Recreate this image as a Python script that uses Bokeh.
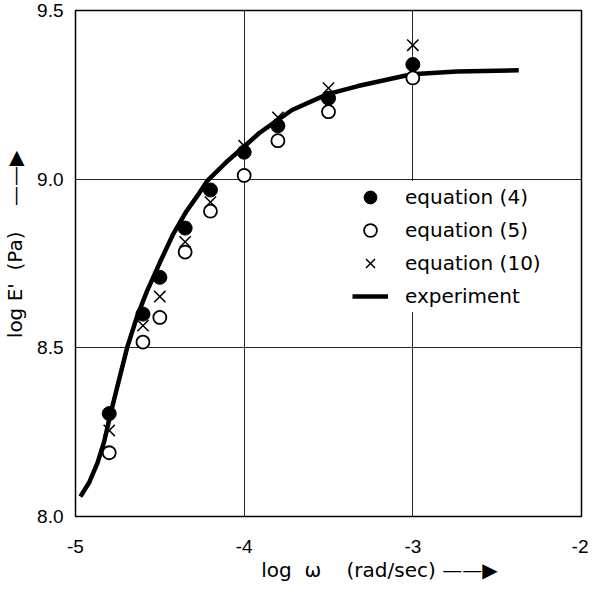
from bokeh.plotting import figure
from bokeh.models import Range1d, FixedTicker, Legend
from bokeh.embed import file_html
from bokeh.resources import INLINE

# ---- data ----
omega_pts = [-4.8, -4.6, -4.5, -4.35, -4.2, -4.0, -3.8, -3.5, -3.0]
eq4 = [8.305, 8.600, 8.709, 8.855, 8.968, 9.080, 9.158, 9.240, 9.340]
eq5 = [8.189, 8.517, 8.590, 8.784, 8.905, 9.011, 9.114, 9.200, 9.300]
eq10 = [8.255, 8.566, 8.652, 8.814, 8.932, 9.099, 9.183, 9.270, 9.397]

exp_x = [-4.971, -4.920, -4.870, -4.830, -4.791, -4.742, -4.693, -4.635, -4.576,
         -4.498, -4.420, -4.342, -4.267, -4.219, -4.107, -4.000, -3.912, -3.794,
         -3.716, -3.505, -3.325, -3.007, -2.739, -2.372]
exp_y = [8.059, 8.100, 8.158, 8.222, 8.307, 8.405, 8.502, 8.593, 8.668,
         8.755, 8.838, 8.905, 8.958, 8.995, 9.050, 9.097, 9.136, 9.178,
         9.205, 9.252, 9.276, 9.311, 9.319, 9.323]

x_ticks = [-5, -4, -3, -2]
x_tick_labels = ["-5", "-4", "-3", "-2"]
y_ticks = [8.0, 8.5, 9.0, 9.5]
y_tick_labels = ["8.0", "8.5", "9.0", "9.5"]

labels = ["equation (4)", "equation (5)", "equation (10)", "experiment"]
NB = "\u00a0"
ARROW = "\u2014\u2014\u25b6"
x_title = NB * 16 + "log" + NB * 2 + "\u03c9" + NB * 4 + "(rad/sec)" + NB + ARROW
y_title = NB * 6 + "log" + NB + "E'" + NB * 2 + "(Pa)" + NB * 4 + ARROW

FONT = "DejaVu Sans"
TICKFONT = "Liberation Sans"

p = figure(frame_width=506, frame_height=506,
           min_border_left=73, min_border_right=7,
           min_border_top=10, min_border_bottom=65,
           x_range=Range1d(-5, -2), y_range=Range1d(8.0, 9.5),
           output_backend="svg", toolbar_location=None)

p.background_fill_color = "white"
p.border_fill_color = "white"
p.outline_line_color = "black"
p.outline_line_width = 1.5

for ax in (p.xaxis[0], p.yaxis[0]):
    ax.axis_line_color = None
    ax.major_tick_line_color = None
    ax.minor_tick_line_color = None
    ax.major_label_text_font = TICKFONT
    ax.major_label_text_font_size = "19px"
    ax.major_label_text_color = "black"
    ax.axis_label_text_font = FONT
    ax.axis_label_text_font_size = "20px"
    ax.axis_label_text_font_style = "normal"
    ax.axis_label_text_color = "black"

p.xaxis.ticker = FixedTicker(ticks=x_ticks)
p.yaxis.ticker = FixedTicker(ticks=y_ticks)
p.xaxis.major_label_overrides = dict(zip(x_ticks, x_tick_labels))
p.yaxis.major_label_overrides = dict(zip(y_ticks, y_tick_labels))
p.xaxis.major_label_standoff = 17
p.yaxis.major_label_standoff = 6
p.xaxis.axis_label = x_title
p.yaxis.axis_label = y_title
p.xaxis.axis_label_standoff = 2
p.yaxis.axis_label_standoff = 7

p.grid.grid_line_color = "black"
p.grid.grid_line_width = 1
p.grid.grid_line_alpha = 0.85
p.xgrid.ticker = FixedTicker(ticks=x_ticks)
p.ygrid.ticker = FixedTicker(ticks=y_ticks)

r_exp = p.line(exp_x, exp_y, line_color="black", line_width=4.5)
r4 = p.scatter(omega_pts, eq4, marker="circle", size=14, fill_color="black",
               line_color="black")
r5 = p.scatter(omega_pts, eq5, marker="circle", size=13, fill_color="white",
               line_color="black", line_width=1.8)
r10 = p.scatter(omega_pts, eq10, marker="x", size=16, line_color="black",
                line_width=1.5)

legend = Legend(items=[(labels[0], [r4]), (labels[1], [r5]),
                       (labels[2], [r10]), (labels[3], [r_exp])],
                location=(277, 204))
legend.label_text_font = FONT
legend.label_text_font_size = "20px"
legend.label_text_color = "black"
legend.glyph_width = 36
legend.glyph_height = 32
legend.label_height = 32
legend.label_width = 146
legend.spacing = 1
legend.padding = 10
legend.margin = 0
legend.label_standoff = 17
legend.border_line_color = None
legend.background_fill_color = "white"
legend.background_fill_alpha = 1.0
p.add_layout(legend, "center")

open("out.html", "w").write(file_html(p, INLINE))
